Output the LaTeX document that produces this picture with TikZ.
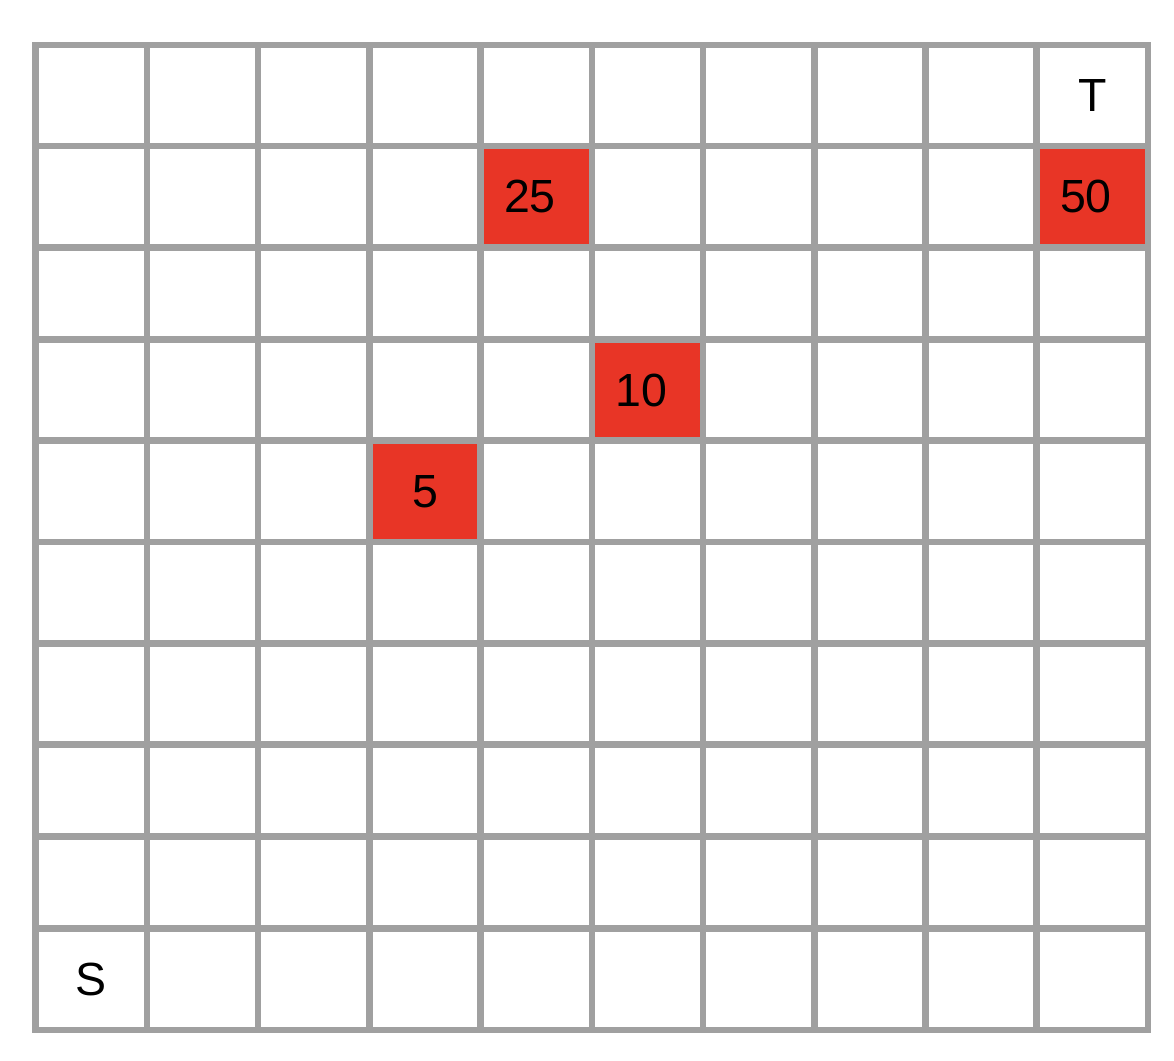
\documentclass[tikz,border=0pt]{standalone}
\usepackage{fontspec}
\setmainfont{Liberation Sans}
\definecolor{gridgray}{RGB}{160,160,160}
\definecolor{cellred}{RGB}{232,53,38}
\tikzset{
  gridline/.style={draw=gridgray, line width=6.5pt},
  redcell/.style={fill=cellred},
  celltext/.style={inner sep=0pt, text=black, font=\fontsize{46.5}{56}\selectfont}
}
\begin{document}
\begin{tikzpicture}[x=1pt, y=-1pt]
\useasboundingbox (0,0) rectangle (1174,1060);
% red cells
\fill[redcell] (480.7,146) rectangle (592,247.3);
\fill[redcell] (1036.7,146) rectangle (1148,247.3);
\fill[redcell] (592,339.3) rectangle (703,440.7);
\fill[redcell] (369.3,440.7) rectangle (480.7,542);
% grid
\foreach \x in {147,258,369.3,480.7,592,703,814.3,925.7,1036.7}
  \draw[gridline] (\x,44.8) -- (\x,1030);
\foreach \y in {146,247.3,339.3,440.7,542,643.3,744.3,836.3,928.7}
  \draw[gridline] (35.7,\y) -- (1148,\y);
\draw[gridline] (35.7,44.8) rectangle (1148,1030);
% labels
\node[celltext] (T) at (1092.4,95.4) {T};
\node[celltext] (c50) at (1085.9,196.7) {50};
\node[celltext] (c25) at (529.9,196.7) {25};
\node[celltext] (c10) at (641.0,390) {10};
\node[celltext] (c5) at (425,491.4) {5};
\node[celltext] (S) at (91.3,979.4) {S};
\end{tikzpicture}
\end{document}
